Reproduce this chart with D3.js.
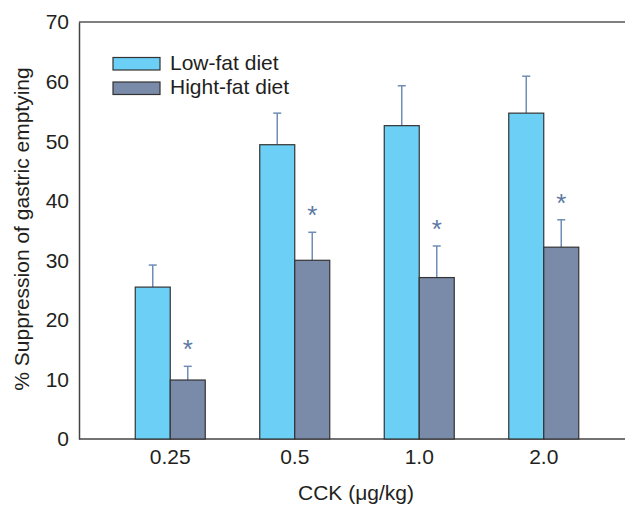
<!DOCTYPE html>
<html><head><meta charset="utf-8">
<script src="https://cdn.jsdelivr.net/npm/d3@7"></script>
<style>body{margin:0;background:#fff}svg text{font-family:"Liberation Sans",Arial,sans-serif;fill:#231f20}</style>
</head><body><svg id="c" width="625" height="506"></svg>
<script>
const categories = ["0.25","0.5","1.0","2.0"];
const seriesNames = ["Low-fat diet","Hight-fat diet"];
const lowFat = [25.5, 49.4, 52.6, 54.7];
const lowFatErr = [3.7, 5.3, 6.7, 6.2];
const highFat = [9.9, 30.0, 27.1, 32.2];
const highFatErr = [2.3, 4.7, 5.3, 4.6];
const yTicks = [0,10,20,30,40,50,60,70];
const colors = ["#6ccff5","#7a8aa9"];

const svg = d3.select("#c");
const m = {l:79, t:22, r:625, b:439};
const y = d3.scaleLinear().domain([0,70]).range([m.b, m.t]);
const x = d3.scaleBand().domain(categories).range([108, 606]).paddingInner(0);
const bw = 35;
const FS = "21px";

// frame
svg.append("line").attr("x1",m.l).attr("x2",625).attr("y1",m.t).attr("y2",m.t).attr("stroke","#555").attr("stroke-width",1.5);
const yAxis = svg.append("g").attr("transform",`translate(${m.l},0)`)
  .call(d3.axisLeft(y).tickValues(yTicks).tickSize(0).tickPadding(10));
yAxis.select(".domain").attr("stroke","#444").attr("stroke-width",1.5);
yAxis.selectAll("text").style("font-size",FS).attr("fill","#231f20").attr("dy","0.33em");
const xAxis = svg.append("g").attr("transform",`translate(0,${m.b})`)
  .call(d3.axisBottom(x).tickSize(0).tickPadding(10));
xAxis.select(".domain").attr("d",`M${m.l},0H625`).attr("stroke","#444").attr("stroke-width",1.5);
xAxis.selectAll("text").style("font-size",FS).attr("fill","#231f20");

const series = [{v:lowFat,e:lowFatErr,off:-bw},{v:highFat,e:highFatErr,off:0}];
series.forEach((s,si)=>{
  const g = svg.append("g");
  categories.forEach((c,i)=>{
    const cx = x(c)+x.bandwidth()/2;
    const x0 = cx + s.off;
    const top = y(s.v[i]+s.e[i]);
    g.append("line").attr("x1",x0+bw/2).attr("x2",x0+bw/2).attr("y1",y(s.v[i])).attr("y2",top).attr("stroke","#6f8db5").attr("stroke-width",1.5);
    g.append("line").attr("x1",x0+bw/2-4).attr("x2",x0+bw/2+4).attr("y1",top).attr("y2",top).attr("stroke","#6f8db5").attr("stroke-width",1.5);
    g.append("rect").attr("x",x0).attr("y",y(s.v[i])).attr("width",bw).attr("height",y(0)-y(s.v[i]))
      .attr("fill",colors[si]).attr("stroke","#333").attr("stroke-width",1.2);
    if(si===1){
      g.append("text").attr("x",x0+bw/2).attr("y",top-8).attr("text-anchor","middle")
        .style("font-size","26px").style("fill","#5b79a3").text("*");
    }
  });
});

// legend
seriesNames.forEach((n,i)=>{
  const ly = 57.5 + i*24.5;
  svg.append("rect").attr("x",113).attr("y",ly).attr("width",47).attr("height",12.5).attr("fill",colors[i]).attr("stroke","#333").attr("stroke-width",1.2);
  svg.append("text").attr("x",170).attr("y",ly+12).style("font-size",FS).text(n);
});

svg.append("text").attr("transform","translate(29,229) rotate(-90)").attr("text-anchor","middle").style("font-size",FS).text("% Suppression of gastric emptying");
svg.append("text").attr("x",356).attr("y",500).attr("text-anchor","middle").style("font-size",FS).text("CCK (μg/kg)");
</script></body></html>
